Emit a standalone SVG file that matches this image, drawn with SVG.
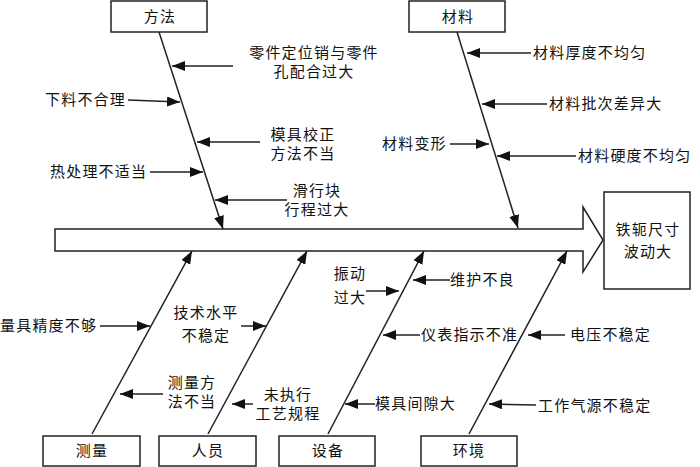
<svg xmlns="http://www.w3.org/2000/svg" width="700" height="467" viewBox="0 0 700 467">
<style>
text{font-family:"Noto Sans CJK SC","Liberation Serif",serif;font-size:15px;fill:#111;letter-spacing:1.2px}
.box{fill:#fff;stroke:#222;stroke-width:1.5}
.bone{stroke:#222;stroke-width:1.5;fill:none}
.arr{stroke:#222;stroke-width:1.5;fill:none;marker-end:url(#ah)}
.c{text-anchor:middle}
</style>
<defs>
<marker id="ah" markerUnits="userSpaceOnUse" markerWidth="13" markerHeight="10" refX="13" refY="5" orient="auto">
<path d="M0,0 L13,5 L0,10 z" fill="#111"/>
</marker>
</defs>
<rect width="700" height="467" fill="#fff"/>
<g id="spine">
<polygon class="bone" points="55,229 583,229 583,207 603,240 583,272 583,251 55,251"/>
</g>
<g id="connectors">
<line class="arr" x1="159" y1="32" x2="223" y2="229"/>
<line class="arr" x1="457" y1="32" x2="518" y2="228"/>
<line class="arr" x1="92" y1="434" x2="192" y2="251"/>
<line class="arr" x1="208" y1="434" x2="307" y2="251"/>
<line class="arr" x1="328" y1="434" x2="424" y2="251"/>
<line class="arr" x1="469" y1="434" x2="567" y2="251"/>
<line class="arr" x1="233" y1="66" x2="172" y2="66"/>
<line class="arr" x1="128" y1="100" x2="180" y2="102"/>
<line class="arr" x1="260" y1="142" x2="197" y2="142"/>
<line class="arr" x1="150" y1="172" x2="203" y2="172"/>
<line class="arr" x1="287" y1="200" x2="215" y2="200"/>
<line class="arr" x1="531" y1="53" x2="467" y2="53"/>
<line class="arr" x1="547" y1="104" x2="482" y2="104"/>
<line class="arr" x1="450" y1="144" x2="489" y2="144"/>
<line class="arr" x1="576" y1="156" x2="497" y2="156"/>
<line class="arr" x1="100" y1="326" x2="150" y2="326"/>
<line class="arr" x1="241" y1="326" x2="266" y2="326"/>
<line class="arr" x1="163" y1="394" x2="120" y2="394"/>
<line class="arr" x1="253" y1="404" x2="232" y2="404"/>
<line class="arr" x1="366" y1="291" x2="399" y2="291"/>
<line class="arr" x1="450" y1="280" x2="413" y2="280"/>
<line class="arr" x1="420" y1="335" x2="383" y2="335"/>
<line class="arr" x1="375" y1="404" x2="345" y2="404"/>
<line class="arr" x1="565" y1="335" x2="528" y2="335"/>
<line class="arr" x1="536" y1="405" x2="489" y2="404"/>
</g>
<g id="effect"><rect class="box" x="604" y="192" width="86" height="97"/><text class="c" x="648" y="235">铁轭尺寸</text><text class="c" x="648" y="257">波动大</text></g>
<g id="method"><rect class="box" x="111" y="1" width="96" height="31"/><text class="c" x="160" y="22">方法</text></g>
<g id="material"><rect class="box" x="409" y="1" width="96" height="31"/><text class="c" x="458" y="22">材料</text></g>
<g id="measure"><rect class="box" x="43" y="436" width="97" height="30"/><text class="c" x="92" y="456">测量</text></g>
<g id="people"><rect class="box" x="159" y="436" width="97" height="30"/><text class="c" x="208" y="456">人员</text></g>
<g id="equipment"><rect class="box" x="279" y="436" width="96" height="30"/><text class="c" x="328" y="456">设备</text></g>
<g id="environment"><rect class="box" x="421" y="436" width="96" height="30"/><text class="c" x="469" y="456">环境</text></g>
<g id="labels">
<text class="c" x="314" y="58">零件定位销与零件</text>
<text class="c" x="314" y="77">孔配合过大</text>
<text x="45" y="105">下料不合理</text>
<text class="c" x="303" y="140">模具校正</text>
<text class="c" x="303" y="159">方法不当</text>
<text x="50" y="177">热处理不适当</text>
<text class="c" x="317" y="196">滑行块</text>
<text class="c" x="317" y="215">行程过大</text>
<text x="533" y="58">材料厚度不均匀</text>
<text x="549" y="109">材料批次差异大</text>
<text x="382" y="149">材料变形</text>
<text x="578" y="161">材料硬度不均匀</text>
<text x="0" y="331">量具精度不够</text>
<text class="c" x="206" y="318">技术水平</text>
<text class="c" x="206" y="341">不稳定</text>
<text class="c" x="192" y="388">测量方</text>
<text class="c" x="192" y="407">法不当</text>
<text class="c" x="288" y="400">未执行</text>
<text class="c" x="288" y="419">工艺规程</text>
<text class="c" x="350" y="279">振动</text>
<text class="c" x="350" y="303">过大</text>
<text x="450" y="285">维护不良</text>
<text x="421" y="340">仪表指示不准</text>
<text x="375" y="409">模具间隙大</text>
<text x="570" y="340">电压不稳定</text>
<text x="538" y="411">工作气源不稳定</text>
</g>
</svg>
